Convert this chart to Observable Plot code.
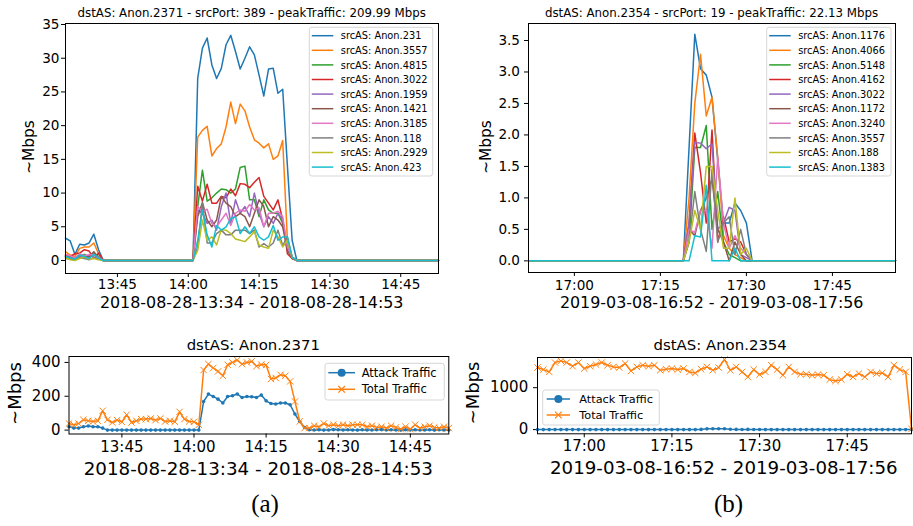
<!DOCTYPE html>
<html><head><meta charset="utf-8">
<script src="https://cdn.jsdelivr.net/npm/d3@7"></script>
<script src="https://cdn.jsdelivr.net/npm/@observablehq/plot@0.6"></script>
<style>
html,body{margin:0;padding:0;background:#fff;}
#fig{position:relative;width:913px;height:526px;overflow:hidden;background:#fff;font-family:"DejaVu Sans",sans-serif;}
</style></head><body><div id="fig"></div>
<script>
// ---------- shared ----------
const tab10 = ["#1f77b4","#ff7f0e","#2ca02c","#d62728","#9467bd","#8c564b","#e377c2","#7f7f7f","#bcbd22","#17becf"];

// ---------- panel (a) top: per-source traffic ----------
const aStart = "2018-08-28T13:34", aEnd = "2018-08-28T14:53";
const aTitle = "dstAS: Anon.2371 - srcPort: 389 - peakTraffic: 209.99 Mbps";
const aXLabel = "2018-08-28-13:34 - 2018-08-28-14:53";
const aXTicks = ["14:00","13:45","14:15","14:30","14:45"];
const aYTicks = [0,5,10,15,20,25,30,35];
const aNames = ["srcAS: Anon.231","srcAS: Anon.3557","srcAS: Anon.4815","srcAS: Anon.3022","srcAS: Anon.1959","srcAS: Anon.1421","srcAS: Anon.3185","srcAS: Anon.118","srcAS: Anon.2929","srcAS: Anon.423"];
const a231  = [3.3,2.9,0.9,2.4,2.3,2.6,3.9,1.6,0, 0,0,0,0,0,0,0,0,0,0,0,0,0,0,0,0,0,0,0, 27,31.5,33,29,27,28.5,32,33.4,31,28.4,30,31.7,30.5,27.5,24.4,28.4,28.5,24.8,25.4,14,3, 0,0,0,0,0,0,0,0,0,0,0,0,0,0,0,0,0,0,0,0,0,0,0,0,0,0,0,0,0,0,0];
const a3557 = [1.3,0.8,0.6,1.8,2.0,2.0,2.6,1.0,0, 0,0,0,0,0,0,0,0,0,0,0,0,0,0,0,0,0,0,0, 18.3,19.3,19.9,15.5,16.6,17.3,19.8,23.5,20.3,23.2,22.2,19.8,17.9,17.4,16.7,17.3,15.0,15.5,17.8,3,0.5, 0,0,0,0,0,0,0,0,0,0,0,0,0,0,0,0,0,0,0,0,0,0,0,0,0,0,0,0,0,0,0];
const a4815 = [0.7,0.5,0.4,0.6,0.9,0.5,1.0,0.6,0, 0,0,0,0,0,0,0,0,0,0,0,0,0,0,0,0,0,0,0, 8,13.4,8.8,9.3,10.0,10.6,10.5,10.0,10.6,13.8,14.0,9.0,9.0,6.5,9.0,7.5,7.0,7.0,5.5,2,0.5, 0,0,0,0,0,0,0,0,0,0,0,0,0,0,0,0,0,0,0,0,0,0,0,0,0,0,0,0,0,0,0];
const a3022 = [0.8,0.6,1.0,1.1,1.6,1.4,0.3,1.1,0, 0,0,0,0,0,0,0,0,0,0,0,0,0,0,0,0,0,0,0, 11.0,8.8,11.3,8.5,8.5,9.5,9.3,10.6,9.6,11.4,11.3,10.8,11.6,12.3,9.5,8.5,7.5,9.0,6.0,1.0,0.3, 0,0,0,0,0,0,0,0,0,0,0,0,0,0,0,0,0,0,0,0,0,0,0,0,0,0,0,0,0,0,0];
const a1959 = [0.5,0.3,0.2,0.6,0.4,0.8,0.5,0.3,0, 0,0,0,0,0,0,0,0,0,0,0,0,0,0,0,0,0,0,0, 7.5,7.0,5.5,6.0,4.5,8.0,10.0,5.5,9.0,7.0,8.0,6.5,10.0,7.0,5.0,6.5,5.5,7.0,6.0,2.0,0.5, 0,0,0,0,0,0,0,0,0,0,0,0,0,0,0,0,0,0,0,0,0,0,0,0,0,0,0,0,0,0,0];
const a1421 = [0.6,0.4,0.3,0.9,0.6,0.5,1.3,0.4,0, 0,0,0,0,0,0,0,0,0,0,0,0,0,0,0,0,0,0,0, 6.5,8.6,6.0,5.0,6.0,9.5,8.5,8.0,6.5,7.0,6.5,5.0,7.0,9.0,8.0,5.0,6.5,6.0,5.0,1.5,0.3, 0,0,0,0,0,0,0,0,0,0,0,0,0,0,0,0,0,0,0,0,0,0,0,0,0,0,0,0,0,0,0];
const a3185 = [0.9,0.7,0.4,1.0,0.7,0.9,0.8,0.5,0, 0,0,0,0,0,0,0,0,0,0,0,0,0,0,0,0,0,0,0, 8.0,7.3,7.6,5.5,5.0,6.0,7.0,5.2,7.0,7.5,7.3,8.3,7.5,7.8,5.0,7.0,7.0,7.3,6.5,2.0,0.5, 0,0,0,0,0,0,0,0,0,0,0,0,0,0,0,0,0,0,0,0,0,0,0,0,0,0,0,0,0,0,0];
const a118  = [0.3,0.2,0.1,0.4,0.3,0.1,0.4,0.2,0, 0,0,0,0,0,0,0,0,0,0,0,0,0,0,0,0,0,0,0, 2.0,8.5,2.6,2.6,4.0,4.5,3.8,3.8,4.5,4.5,4.5,4.0,4.5,2.0,2.5,2.0,2.6,4.5,2.2,3.5,0.5, 0,0,0,0,0,0,0,0,0,0,0,0,0,0,0,0,0,0,0,0,0,0,0,0,0,0,0,0,0,0,0];
const a2929 = [0.4,0.1,0.0,0.3,0.5,0.2,0.3,0.1,0, 0,0,0,0,0,0,0,0,0,0,0,0,0,0,0,0,0,0,0, 1.5,6.0,3.0,3.5,2.3,4.6,4.5,4.0,3.2,3.0,2.8,3.5,4.3,2.3,2.0,1.8,4.5,3.5,2.0,3.0,0.5, 0,0,0,0,0,0,0,0,0,0,0,0,0,0,0,0,0,0,0,0,0,0,0,0,0,0,0,0,0,0,0];
const a423  = [0.6,0.4,0.2,0.8,0.6,0.3,0.9,0.4,0, 0,0,0,0,0,0,0,0,0,0,0,0,0,0,0,0,0,0,0, 3.0,7.5,3.8,2.0,5.2,4.5,5.0,6.2,6.5,4.0,5.0,4.0,5.0,3.5,3.0,3.5,5.2,3.0,3.5,3.5,0.5, 0,0,0,0,0,0,0,0,0,0,0,0,0,0,0,0,0,0,0,0,0,0,0,0,0,0,0,0,0,0,0];

// ---------- panel (b) top ----------
const bStart = "2019-03-08T16:52", bEnd = "2019-03-08T17:56";
const bTitle = "dstAS: Anon.2354 - srcPort: 19 - peakTraffic: 22.13 Mbps";
const bXLabel = "2019-03-08-16:52 - 2019-03-08-17:56";
const bXTicks = ["17:00","17:15","17:30","17:45"];
const bYTicks = [0,0.5,1.0,1.5,2.0,2.5,3.0,3.5];
const bNames = ["srcAS: Anon.1176","srcAS: Anon.4066","srcAS: Anon.5148","srcAS: Anon.4162","srcAS: Anon.3022","srcAS: Anon.1172","srcAS: Anon.3240","srcAS: Anon.3557","srcAS: Anon.188","srcAS: Anon.1383"];
const b1176 = [0,0,0,0,0,0,0,0,0,0,0,0,0,0,0,0,0,0,0,0,0,0,0,0,0,0,0,0, 1.8,3.6,3.05,2.95,2.6,1.6,0.6,0.6,0.92,0.8,0.6, 0,0,0,0,0,0,0,0,0,0,0,0,0,0,0,0,0,0,0,0,0,0,0,0,0,0];
const b4066 = [0,0,0,0,0,0,0,0,0,0,0,0,0,0,0,0,0,0,0,0,0,0,0,0,0,0,0,0, 1.0,2.5,3.28,2.3,2.6,1.65,0.4,0.2,0.1,0.05,0, 0,0,0,0,0,0,0,0,0,0,0,0,0,0,0,0,0,0,0,0,0,0,0,0,0,0];
const b5148 = [0,0,0,0,0,0,0,0,0,0,0,0,0,0,0,0,0,0,0,0,0,0,0,0,0,0,0,0, 0.3,1.8,1.8,2.15,0.5,1.1,0.3,0.1,0.05,0,0, 0,0,0,0,0,0,0,0,0,0,0,0,0,0,0,0,0,0,0,0,0,0,0,0,0,0];
const b4162 = [0,0,0,0,0,0,0,0,0,0,0,0,0,0,0,0,0,0,0,0,0,0,0,0,0,0,0,0, 0.6,2.03,1.4,0.6,2.08,0.3,0.7,0.3,0.35,0.3,0.1, 0,0,0,0,0,0,0,0,0,0,0,0,0,0,0,0,0,0,0,0,0,0,0,0,0,0];
const b3022 = [0,0,0,0,0,0,0,0,0,0,0,0,0,0,0,0,0,0,0,0,0,0,0,0,0,0,0,0, 0.6,1.88,1.87,1.78,1.86,0.5,0.6,0.85,0.8,0.1,0.05, 0,0,0,0,0,0,0,0,0,0,0,0,0,0,0,0,0,0,0,0,0,0,0,0,0,0];
const b1172 = [0,0,0,0,0,0,0,0,0,0,0,0,0,0,0,0,0,0,0,0,0,0,0,0,0,0,0,0, 0.5,0.4,0.8,1.0,1.3,0.5,0.3,0.0,0.3,0.1,0, 0,0,0,0,0,0,0,0,0,0,0,0,0,0,0,0,0,0,0,0,0,0,0,0,0,0];
const b3240 = [0,0,0,0,0,0,0,0,0,0,0,0,0,0,0,0,0,0,0,0,0,0,0,0,0,0,0,0, 0.5,0.45,0.8,0.8,0.2,1.65,0.6,0.2,0.4,0.2,0.1, 0,0,0,0,0,0,0,0,0,0,0,0,0,0,0,0,0,0,0,0,0,0,0,0,0,0];
const b3557 = [0,0,0,0,0,0,0,0,0,0,0,0,0,0,0,0,0,0,0,0,0,0,0,0,0,0,0,0, 0.3,1.1,0.5,0.15,1.45,0.3,0.6,0.7,0.1,0.5,0.1, 0,0,0,0,0,0,0,0,0,0,0,0,0,0,0,0,0,0,0,0,0,0,0,0,0,0];
const b188  = [0,0,0,0,0,0,0,0,0,0,0,0,0,0,0,0,0,0,0,0,0,0,0,0,0,0,0,0, 0.3,0.8,0.5,1.5,1.5,0.8,0.2,0.2,1.0,0.1,0.2, 0,0,0,0,0,0,0,0,0,0,0,0,0,0,0,0,0,0,0,0,0,0,0,0,0,0];
const b1383 = [0,0,0,0,0,0,0,0,0,0,0,0,0,0,0,0,0,0,0,0,0,0,0,0,0,0,0,0, 0,0.4,0.38,1.2,0,0,0,0,0.2,0,0, 0,0,0,0,0,0,0,0,0,0,0,0,0,0,0,0,0,0,0,0,0,0,0,0,0,0];

// ---------- bottom panels: attack vs total ----------
const aBottomTitle = "dstAS: Anon.2371";
const bBottomTitle = "dstAS: Anon.2354";
const aBotYTicks = [0,200,400];
const bBotYTicks = [0,1000];
const aAttack = [20,12,12,20,24,20,20,12,0, 0,0,0,0,0,0,0,0,0,0,0,0,0,0,0,0,0,0,0, 169,213,199,183,160,199,203,213,193,199,197,193,207,173,157,154,160,160,150,95,51, 15,2,1,2,0,1,3,2,1,2,1,0,2,1,1,2,3,1,2,1,0,2,1,2,1,1,2,0,2,1,1];
const aTotal  = [39,31,39,61,55,51,55,114,61,45,59,49,91,45,55,65,65,69,59,69,51,55,49,108,65,51,49,31, 355,390,367,347,321,386,400,414,390,400,406,378,387,385,302,308,327,321,288,169,51, 12,12,26,20,39,26,32,26,32,26,32,32,32,20,26,16,20,12,26,16,6,20,6,32,12,20,26,16,12,20,12];
const bAttack = [0,0,0,0,0,0,0,0,0,0,0,0,0,0,0,0,0,0,0,0,0,0,0,0,0,0,0,0, 5,18,22,20,21,10,5,4,5,3,2, 0,0,0,0,0,0,0,0,0,0,0,0,0,0,0,0,0,0,0,0,0,0,0,0,0,0];
const bTotal  = [1480,1432,1376,1600,1640,1600,1512,1600,1456,1512,1552,1600,1536,1496,1480,1576,1400,1496,1536,1512,1536,1416,1440,1456,1432,1456,1376,1352,1440,1496,1416,1480,1672,1416,1496,1376,1256,1432,1312,1376,1536,1432,1296,1496,1376,1320,1320,1296,1312,1296,1192,1160,1192,1320,1256,1336,1256,1376,1336,1352,1256,1536,1432,1376,16];
const legendBottom = ["Attack Traffic","Total Traffic"];

// ---------- helpers ----------
const fig = document.getElementById("fig");
const utc = s => new Date(s + ":00Z");
const minutes = (start, n) => d3.range(n).map(i => new Date(+utc(start) + i * 60000));
const tickDates = (day, arr) => arr.map(h => utc(day + "T" + h));
function place(node, left, top) {
  node.style.position = "absolute"; node.style.left = left + "px"; node.style.top = top + "px";
  fig.appendChild(node);
}
const baseStyle = fs => ({fontFamily: '"DejaVu Sans", sans-serif', fontSize: fs, background: "transparent", overflow: "visible", color: "black"});

function longRows(names, series, times) {
  return names.flatMap((name, k) => series[k].map((v, i) => ({t: times[i], v, s: name})));
}

// ---------- top-left ----------
const aSeries = [a231,a3557,a4815,a3022,a1959,a1421,a3185,a118,a2929,a423];
const aTimes = minutes(aStart, a231.length);
place(Plot.plot({
  width: 456, height: 300, marginLeft: 65, marginRight: 18, marginTop: 23, marginBottom: 27,
  style: baseStyle("13.6px"),
  x: {type: "utc", domain: [utc(aStart), utc(aEnd)], ticks: tickDates("2018-08-28", aXTicks), tickFormat: d3.utcFormat("%H:%M"), tickSize: 4, tickPadding: 1.5, label: null},
  y: {domain: [-1.93, 35.15], ticks: aYTicks, tickFormat: d => String(d), tickSize: 4, tickPadding: 2, label: null},
  color: {domain: aNames, range: tab10},
  marks: [
    Plot.lineY(longRows(aNames, aSeries, aTimes), {x: "t", y: "v", z: "s", stroke: "s", strokeWidth: 1.5}),
    Plot.frame({stroke: "black", strokeWidth: 1})
  ]
}), 0, 0);

// ---------- top-right ----------
const bSeries = [b1176,b4066,b5148,b4162,b3022,b1172,b3240,b3557,b188,b1383];
const bTimes = minutes(bStart, b1176.length);
place(Plot.plot({
  width: 457, height: 300, marginLeft: 72, marginRight: 18, marginTop: 23, marginBottom: 28,
  style: baseStyle("13.6px"),
  x: {type: "utc", domain: [utc(bStart), utc(bEnd)], ticks: tickDates("2019-03-08", bXTicks), tickFormat: d3.utcFormat("%H:%M"), tickSize: 4, tickPadding: 3.5, label: null},
  y: {domain: [-0.185, 3.77], ticks: bYTicks, tickFormat: d => d.toFixed(1), tickSize: 4, tickPadding: 4.5, label: null},
  color: {domain: bNames, range: tab10},
  marks: [
    Plot.lineY(longRows(bNames, bSeries, bTimes), {x: "t", y: "v", z: "s", stroke: "s", strokeWidth: 1.5}),
    Plot.frame({stroke: "black", strokeWidth: 1})
  ]
}), 456, 0);

// ---------- bottom panels ----------
function bottomPlot(times, attack, total, start, end, day, xt, yd, yt, w, ml, mr, mt, mb, ypad) {
  const att = attack.map((v, i) => ({t: times[i], v}));
  const tot = total.map((v, i) => ({t: times[i], v}));
  return Plot.plot({
    width: w, height: 120, marginLeft: ml, marginRight: mr, marginTop: mt, marginBottom: mb,
    style: baseStyle("15px"),
    x: {type: "utc", domain: [utc(start), utc(end)], ticks: tickDates(day, xt), tickFormat: d3.utcFormat("%H:%M"), tickSize: 4, tickPadding: 3, label: null},
    y: {domain: yd, ticks: yt, tickFormat: d => String(d), tickSize: 4, tickPadding: ypad, label: null},
    marks: [
      Plot.lineY(att, {x: "t", y: "v", stroke: tab10[0], strokeWidth: 1.5}),
      Plot.dot(att, {x: "t", y: "v", r: 1.8, fill: tab10[0], stroke: "none"}),
      Plot.lineY(tot, {x: "t", y: "v", stroke: tab10[1], strokeWidth: 1.5}),
      Plot.dot(tot, {x: "t", y: "v", r: 3, symbol: "times", stroke: tab10[1], strokeWidth: 1}),
      Plot.frame({stroke: "black", strokeWidth: 1})
    ]
  });
}
place(bottomPlot(minutes(aStart, aTotal.length), aAttack, aTotal, aStart, aEnd, "2018-08-28", aXTicks,
  [-23, 435], aBotYTicks, 456, 68.5, 7.7, 16, 26.5, 4.5), 0, 340);
place(bottomPlot(minutes(bStart, bTotal.length), bAttack, bTotal, bStart, bEnd, "2019-03-08", bXTicks,
  [-100, 1720], bBotYTicks, 457, 81, 2, 17, 26.7, 5.3), 456, 340);

// ---------- overlay: titles, labels, legends ----------
const ov = d3.create("svg").attr("width", 913).attr("height", 526)
  .style("position", "absolute").style("left", "0px").style("top", "0px")
  .style("font-family", '"DejaVu Sans", sans-serif').style("pointer-events", "none");
function txt(x, y, s, fs, anchor = "middle", rot = false, family = null) {
  const t = ov.append("text").attr("font-size", fs).attr("text-anchor", anchor).attr("fill", "black").text(s);
  if (family) t.attr("font-family", family);
  if (rot) t.attr("transform", `translate(${x},${y}) rotate(-90)`); else t.attr("x", x).attr("y", y);
  return t;
}
txt(251.7, 16.5, aTitle, "11.8px");
txt(711.5, 16.5, bTitle, "11.8px");
txt(251.7, 308.3, aXLabel, "15.9px");
txt(711.7, 308.3, bXLabel, "15.9px");
txt(34, 147, "~Mbps", "15.4px", "middle", true);
txt(491, 147, "~Mbps", "15.4px", "middle", true);
txt(253.3, 350, aBottomTitle, "14.9px");
txt(720.2, 350, bBottomTitle, "14.9px");
txt(258.3, 475, aXLabel, "18.3px");
txt(723.8, 473.5, bXLabel, "18.2px");
txt(21, 393.5, "~Mbps", "18px", "middle", true);
txt(478.7, 393, "~Mbps", "18px", "middle", true);
txt(265, 511.5, "(a)", "25px", "middle", false, '"Liberation Serif", "Times New Roman", serif');
txt(728.5, 511.5, "(b)", "25px", "middle", false, '"Liberation Serif", "Times New Roman", serif');

function seriesLegend(x0, x1, names) {
  ov.append("rect").attr("x", x0).attr("y", 27.3).attr("width", x1 - x0).attr("height", 148.7)
    .attr("rx", 2.5).attr("fill", "white").attr("fill-opacity", 0.8).attr("stroke", "#cccccc").attr("stroke-width", 0.8);
  names.forEach((n, i) => {
    const y = 35.7 + i * 14.6;
    ov.append("line").attr("x1", x0 + 2.5).attr("x2", x0 + 24).attr("y1", y).attr("y2", y)
      .attr("stroke", tab10[i]).attr("stroke-width", 1.5);
    txt(x0 + 31.5, y + 3.6, n, "9.8px", "start");
  });
}
seriesLegend(309.3, 432.7, aNames);
seriesLegend(766.7, 891, bNames);

function bottomLegend(x0, x1, y0, y1, ya, yb, lx0, lx1, tx, fs) {
  ov.append("rect").attr("x", x0).attr("y", y0).attr("width", x1 - x0).attr("height", y1 - y0)
    .attr("rx", 2.5).attr("fill", "white").attr("fill-opacity", 0.8).attr("stroke", "#cccccc").attr("stroke-width", 0.8);
  const cx = (lx0 + lx1) / 2;
  ov.append("line").attr("x1", lx0).attr("x2", lx1).attr("y1", ya).attr("y2", ya).attr("stroke", tab10[0]).attr("stroke-width", 1.5);
  ov.append("circle").attr("cx", cx).attr("cy", ya).attr("r", 4).attr("fill", tab10[0]);
  ov.append("line").attr("x1", lx0).attr("x2", lx1).attr("y1", yb).attr("y2", yb).attr("stroke", tab10[1]).attr("stroke-width", 1.5);
  ov.append("path").attr("d", `M${cx-3.3},${yb-3.3}L${cx+3.3},${yb+3.3}M${cx-3.3},${yb+3.3}L${cx+3.3},${yb-3.3}`)
    .attr("stroke", tab10[1]).attr("stroke-width", 1.2);
  txt(tx, ya + fs * 0.36, legendBottom[0], fs + "px", "start");
  txt(tx, yb + fs * 0.36, legendBottom[1], fs + "px", "start");
}
bottomLegend(325, 444.3, 363.3, 400, 372.7, 389.3, 328.3, 355, 361.7, 11.5);
bottomLegend(542.7, 659.3, 390, 425, 399, 415, 546.7, 570, 579.3, 11.3);

fig.appendChild(ov.node());
</script></body></html>
